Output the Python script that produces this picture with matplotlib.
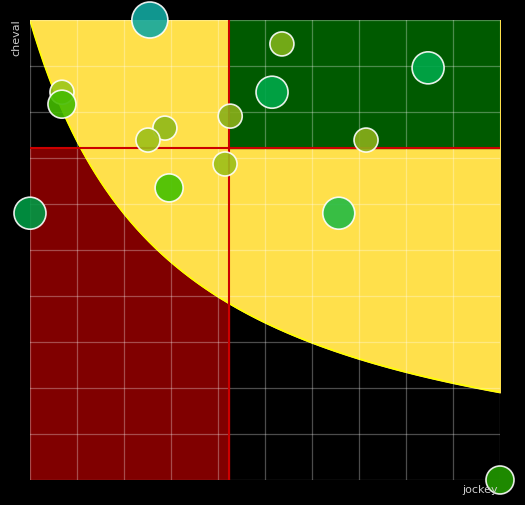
import numpy as np
import matplotlib
matplotlib.use("Agg")
import matplotlib.pyplot as plt

# bubbles (jockey, cheval, radius px, color)
jockey = [2.55, 5.36, 8.47, 5.15, 0.68, 0.68, 2.87, 2.51, 4.26, 7.15, 4.15, 2.96, 0.0, 6.57, 10.0]
cheval = [10.0, 9.48, 8.96, 8.43, 8.43, 8.17, 7.65, 7.39, 7.91, 7.39, 6.87, 6.35, 5.8, 5.8, 0.0]
radius = [18, 12, 16, 16, 12, 14, 12, 12, 12, 12, 12, 14, 16, 16, 14]
colors = ["#12a8a0", "#7fb21a", "#00a84a", "#00a84a", "#9cc71a", "#44bb00", "#8fb81a",
          "#9cbf1a", "#8aaf1a", "#8aaf1a", "#9cbf1a", "#44c000", "#009944", "#22bb44", "#229900"]

# frontier curve: cheval = A + B / (jockey + C)
A, B, C = -0.52, 31.55, 3.0
split_x, split_y = 4.23, 7.22

BG = "black"
fig = plt.figure(figsize=(5.25, 5.05), dpi=100, facecolor=BG)
ax = fig.add_axes([30/525, 25/505, 470/525, 460/505])
ax.set_facecolor(BG)
ax.set_xlim(0, 10); ax.set_ylim(0, 10)

ax.add_patch(plt.Rectangle((0, 0), split_x, split_y, color="#800000", zorder=1))

cx = np.linspace(0, 10, 300)
cy = A + B / (cx + C)
ax.fill_between(cx, cy, 10, color="#ffe04b", zorder=2)
ax.plot(cx, cy, color="#ffff00", lw=1.2, zorder=2)
ax.add_patch(plt.Rectangle((split_x, split_y), 10 - split_x, 10 - split_y, color="#005a00", zorder=2.5))

for v in range(11):
    ax.axvline(v, color="#ffffff", alpha=0.3, lw=0.9, zorder=3)
    ax.axhline(v, color="#ffffff", alpha=0.3, lw=0.9, zorder=3)
ax.plot([split_x, split_x], [0, 10], color="#cc0000", lw=1.5, zorder=3)
ax.plot([0, 10], [split_y, split_y], color="#cc0000", lw=1.5, zorder=3)

ax.scatter(jockey, cheval, s=[(r * 72 / 100 * 2) ** 2 for r in radius], c=colors,
           edgecolors="white", linewidths=1.2, alpha=0.9, zorder=5, clip_on=False)

for s in ax.spines.values():
    s.set_visible(False)
ax.set_xticks([]); ax.set_yticks([])
fig.text(16/525, 1 - 38/505, "cheval", rotation=90, color="#cccccc", fontsize=8, ha="center", va="center")
fig.text(480/525, 1 - 490/505, "jockey", color="#cccccc", fontsize=8, ha="center", va="center")

fig.savefig("out.png", dpi=100, facecolor=BG)
